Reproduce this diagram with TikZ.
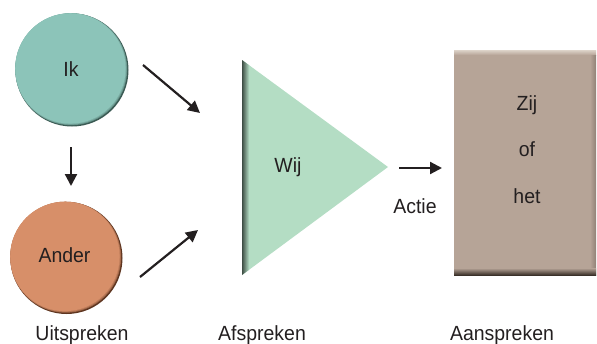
\documentclass[tikz,border=0pt]{standalone}
\usepackage{fontspec}
\setmainfont{Liberation Sans}[FakeStretch=0.95]
\usetikzlibrary{arrows.meta}
\definecolor{txt}{HTML}{231F20}
\definecolor{ikc}{HTML}{8CC4B9}
\definecolor{ikd}{HTML}{3A5A53}
\definecolor{anc}{HTML}{D78F69}
\definecolor{ankd}{HTML}{5E3520}
\definecolor{wijc}{HTML}{B4DDC4}
\definecolor{wijd}{HTML}{2E3A33}
\definecolor{boxc}{HTML}{B6A497}
\definecolor{boxl}{HTML}{DDD3C9}
\definecolor{boxd}{HTML}{3A3029}
\begin{document}
\begin{tikzpicture}[x=1pt,y=-1pt,
  lbl/.style={font=\fontsize{20.5}{24}\selectfont, text=txt, inner sep=0pt},
  arr/.style={line width=2.2pt, draw=txt, -{Triangle[length=12pt,width=12pt]}},
  holder/.style={circle, minimum size=112pt, inner sep=0pt, font=\fontsize{20.5}{24}\selectfont, text=txt}]
\useasboundingbox (0,0) rectangle (597,343);
% Ik ball
\fill[ikd] (72,70) circle (56.5pt);
\fill[ikc!55!ikd] (71.2,69.2) circle (56pt);
\fill[ikc!80!ikd] (70.8,68.8) circle (55.6pt);
\fill[ikc] (70.4,68.4) circle (55.2pt);
\node[holder] (ik) at (71,69.5) {Ik};
% Ander ball
\fill[ankd] (66.5,258) circle (56pt);
\fill[anc!55!ankd] (65.7,257.2) circle (55.5pt);
\fill[anc!80!ankd] (65.3,256.8) circle (55.1pt);
\fill[anc] (64.9,256.4) circle (54.7pt);
\node[holder] (ander) at (64.5,255.5) {Ander};
% Wij triangle
\fill[wijc] (242,60) -- (242,275) -- (388,167) -- cycle;
\begin{scope}
  \clip (242,60) -- (242,275) -- (388,167) -- cycle;
  \shade[left color=wijd, right color=wijc] (241,55) rectangle (249,280);
\end{scope}
\coordinate (tri) at (290,167);
\node[lbl, anchor=base] (wij) at (288,172) {Wij};
% Zij box
\fill[boxc] (454,50) rectangle (596,275);
\shade[top color=boxl, bottom color=boxc] (454,50) rectangle (596,55);
\shade[left color=boxc, right color=boxc!70!boxd] (590,55) rectangle (596,275);
\shade[top color=boxc, bottom color=boxd] (454,268) rectangle (596,275);
\node[minimum width=142pt, minimum height=225pt, inner sep=0pt] (zij) at (525,162.5) {};
\node[lbl, anchor=base] (t1) at (527,110) {Zij};
\node[lbl, anchor=base] (t2) at (527,156) {of};
\node[lbl, anchor=base] (t3) at (527,203) {het};
% arrow end points
\coordinate (a1s) at (143,65);
\coordinate (a1e) at (200,113);
\coordinate (a2s) at (140,277);
\coordinate (a2e) at (198,230);
\coordinate (a3s) at (71,147);
\coordinate (a3e) at (71,186);
\coordinate (a4s) at (399,168);
\coordinate (a4e) at (442,168);
\draw[arr] (a1s) -- (a1e);
\draw[arr] (a2s) -- (a2e);
\draw[arr] (a3s) -- (a3e);
\draw[arr] (a4s) -- (a4e);
\node[lbl, anchor=base] (actie) at (415,213) {Actie};
% bottom labels
\node[lbl, anchor=base] (uit) at (82,340) {Uitspreken};
\node[lbl, anchor=base] (af) at (262,340) {Afspreken};
\node[lbl, anchor=base] (aan) at (502,340) {Aanspreken};
\end{tikzpicture}
\end{document}
